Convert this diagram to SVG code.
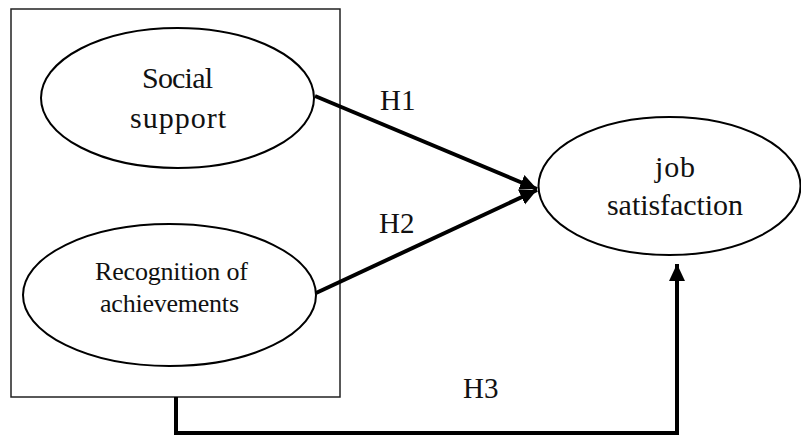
<svg xmlns="http://www.w3.org/2000/svg" width="801" height="435" viewBox="0 0 801 435">
<style>
.frame{fill:none;stroke:#222;stroke-width:1.5}
.node{fill:#fff;stroke:#000;stroke-width:2}
.conn{fill:none;stroke:#000;stroke-width:4}
text{font-family:"Liberation Serif","Times New Roman",serif;fill:#111}
.big{font-size:30px}
.small{font-size:26px}
.lbl{font-size:29px}
</style>
<defs>
<marker id="ah" markerUnits="userSpaceOnUse" markerWidth="18" markerHeight="18" viewBox="0 0 18 18" refX="17" refY="9" orient="auto">
<path d="M0,1 L17,9 L0,17 Z" fill="#000"/>
</marker>
</defs>
<rect class="frame" x="11" y="9" width="329" height="388"/>
<g id="connectors">
<line class="conn" x1="315" y1="96" x2="537" y2="189" marker-end="url(#ah)"/>
<line class="conn" x1="316" y1="293" x2="537" y2="190" marker-end="url(#ah)"/>
<polyline class="conn" points="176,397 176,433 677,433 677,264" marker-end="url(#ah)"/>
</g>
<g id="social-support">
<ellipse class="node" cx="177.5" cy="98" rx="136.5" ry="70"/>
<text class="big" x="177.5" y="88" text-anchor="middle" textLength="71">Social</text>
<text class="big" x="178" y="128" text-anchor="middle" textLength="96">support</text>
</g>
<g id="recognition">
<ellipse class="node" cx="169.5" cy="295" rx="146.5" ry="71"/>
<text class="small" x="171.5" y="280" text-anchor="middle" textLength="153">Recognition of</text>
<text class="small" x="169.5" y="312" text-anchor="middle" textLength="139">achievements</text>
</g>
<g id="job-satisfaction">
<ellipse class="node" cx="669.5" cy="186" rx="131" ry="69"/>
<text class="big" x="675" y="177" text-anchor="middle" textLength="40">job</text>
<text class="big" x="675" y="215" text-anchor="middle" textLength="136">satisfaction</text>
</g>
<g id="labels">
<text class="lbl" x="380" y="110">H1</text>
<text class="lbl" x="379" y="233">H2</text>
<text class="lbl" x="463" y="398">H3</text>
</g>
</svg>
